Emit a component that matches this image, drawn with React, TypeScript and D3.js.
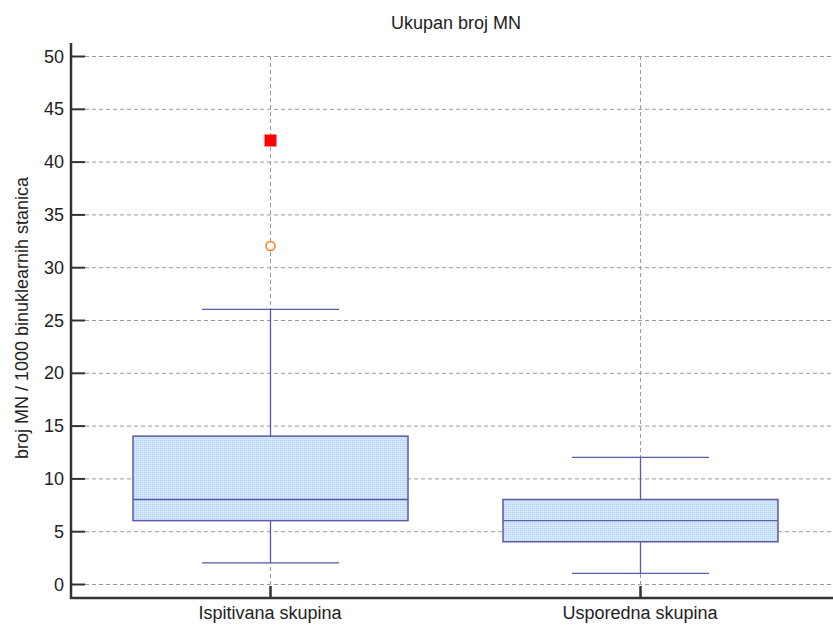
import React from "react";
import * as d3 from "d3";

// Groups and their box-plot summaries (number of MN per 1000 binucleated cells)
const categories = ["Ispitivana skupina", "Usporedna skupina"];
const lowerWhisker = [2, 1];
const q1 = [6, 4];
const median = [8, 6];
const q3 = [14, 8];
const upperWhisker = [26, 12];

// Outliers: far-out value (filled square) and outside value (hollow circle)
const farOutliers = [{ group: "Ispitivana skupina", value: 42 }];
const outsideValues = [{ group: "Ispitivana skupina", value: 32 }];

const yTicks = [0, 5, 10, 15, 20, 25, 30, 35, 40, 45, 50];

const W = 833;
const H = 626;
const FONT = "'Liberation Sans', Arial, sans-serif";
const FS = 18;

export default function App() {
  const axisX = 71;
  const axisBottom = 598;
  const axisTop = 43;

  const x = d3.scalePoint<string>().domain(categories).range([85, 825]).padding(0.5);
  const y = d3.scaleLinear().domain([0, 50]).range([584, 56]);

  const boxHalf = 137.5;
  const capHalf = 68.5;
  const stroke = "#5a5aa6";

  return (
    <svg
      width={W}
      height={H}
      style={{ position: "absolute", left: 0, top: 0, background: "#fff" }}
      fontFamily={FONT}
    >
      <defs>
        <pattern id="dots" width="2" height="2" patternUnits="userSpaceOnUse">
          <rect width="2" height="2" fill="#d3e8ff" />
          <rect width="1" height="1" fill="#b5d2f4" />
        </pattern>
      </defs>

      {/* title */}
      <text x={456} y={29} textAnchor="middle" fontSize={FS} fill="#222">
        Ukupan broj MN
      </text>

      {/* y-axis label */}
      <text
        transform={`translate(28,${318}) rotate(-90)`}
        textAnchor="middle"
        fontSize={FS}
        fill="#222"
      >
        broj MN / 1000 binuklearnih stanica
      </text>

      {/* horizontal grid */}
      {yTicks.map((t) => (
        <line
          key={"g" + t}
          x1={axisX + 14}
          x2={W}
          y1={y(t) + 0.5}
          y2={y(t) + 0.5}
          stroke="#9a9a9a"
          strokeDasharray="4,3"
        />
      ))}
      {/* vertical grid */}
      {categories.map((c) => (
        <line
          key={"vg" + c}
          x1={Math.round(x(c)!) + 0.5}
          x2={Math.round(x(c)!) + 0.5}
          y1={y(50)}
          y2={axisBottom - 12}
          stroke="#9a9a9a"
          strokeDasharray="4,3"
        />
      ))}

      {/* boxes */}
      {categories.map((c, i) => {
        const cx = Math.round(x(c)!) + 0.5;
        return (
          <g key={"b" + c}>
            <line x1={cx} x2={cx} y1={y(upperWhisker[i])} y2={y(q3[i])} stroke={stroke} strokeWidth={1.3} />
            <line x1={cx} x2={cx} y1={y(q1[i])} y2={y(lowerWhisker[i])} stroke={stroke} strokeWidth={1.3} />
            <line x1={cx - capHalf} x2={cx + capHalf} y1={y(upperWhisker[i])} y2={y(upperWhisker[i])} stroke={stroke} strokeWidth={1.3} />
            <line x1={cx - capHalf} x2={cx + capHalf} y1={y(lowerWhisker[i])} y2={y(lowerWhisker[i])} stroke={stroke} strokeWidth={1.3} />
            <rect
              x={cx - boxHalf}
              y={y(q3[i])}
              width={boxHalf * 2}
              height={y(q1[i]) - y(q3[i])}
              fill="url(#dots)"
              stroke={stroke}
              strokeWidth={1.5}
            />
            <line x1={cx - boxHalf} x2={cx + boxHalf} y1={y(median[i])} y2={y(median[i])} stroke={stroke} strokeWidth={1.3} />
          </g>
        );
      })}

      {/* outliers */}
      {farOutliers.map((o, i) => (
        <rect
          key={"fo" + i}
          x={Math.round(x(o.group)!) - 5.5}
          y={y(o.value) - 6}
          width={12}
          height={12}
          fill="#ff0000"
        />
      ))}
      {outsideValues.map((o, i) => (
        <circle
          key={"ov" + i}
          cx={Math.round(x(o.group)!) + 0.5}
          cy={y(o.value)}
          r={4.5}
          fill="#fff"
          stroke="#ff7a1a"
          strokeWidth={1.5}
        />
      ))}

      {/* y axis */}
      <line x1={axisX} x2={axisX} y1={axisTop} y2={axisBottom + 1} stroke="#333" strokeWidth={2.5} />
      {yTicks.map((t) => (
        <g key={"t" + t}>
          <line x1={axisX} x2={axisX + 14} y1={y(t) + 0.5} y2={y(t) + 0.5} stroke="#333" strokeWidth={2} />
          <text x={64} y={y(t) + 6.5} textAnchor="end" fontSize={FS} fill="#222">
            {t}
          </text>
        </g>
      ))}

      {/* x axis */}
      <line x1={axisX - 1} x2={W} y1={axisBottom} y2={axisBottom} stroke="#333" strokeWidth={2.5} />
      {categories.map((c) => (
        <g key={"xt" + c}>
          <line
            x1={Math.round(x(c)!) + 0.5}
            x2={Math.round(x(c)!) + 0.5}
            y1={axisBottom}
            y2={axisBottom - 12}
            stroke="#333"
            strokeWidth={2.5}
          />
          <text x={x(c)} y={619} textAnchor="middle" fontSize={FS} fill="#222">
            {c}
          </text>
        </g>
      ))}
    </svg>
  );
}
